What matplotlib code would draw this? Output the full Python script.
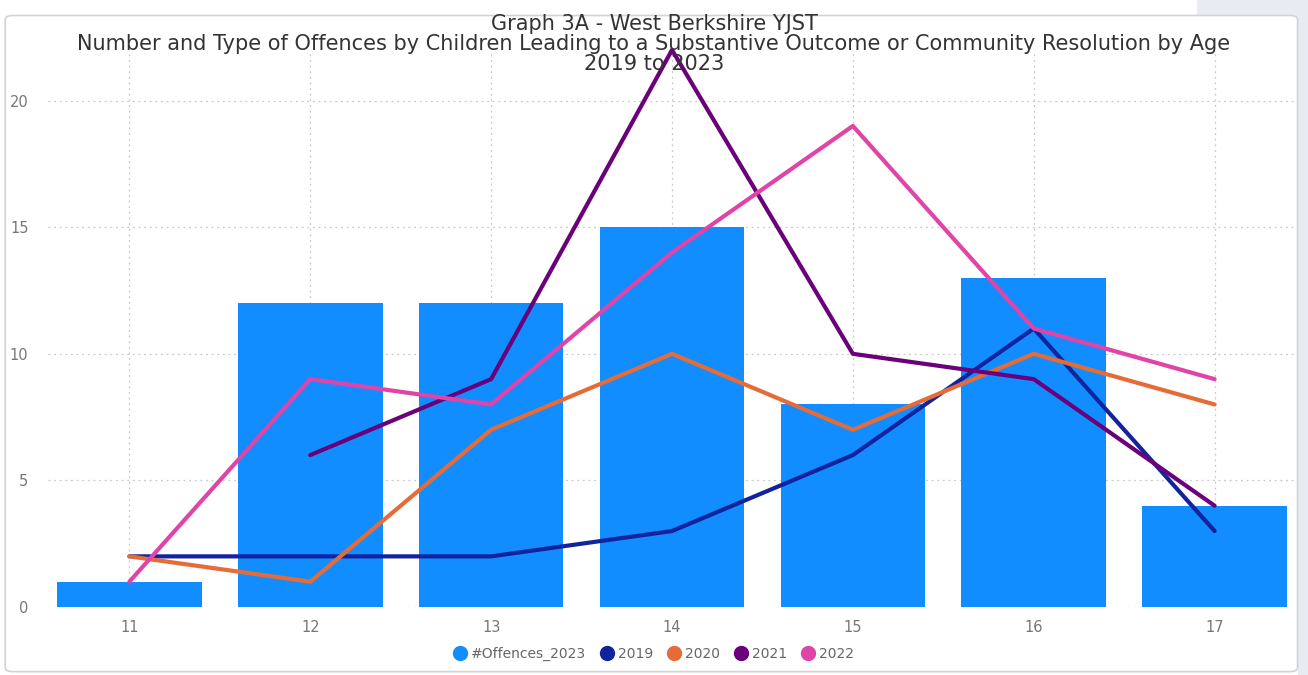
import numpy as np
import matplotlib.pyplot as plt
from matplotlib.patches import FancyBboxPatch, Rectangle
from matplotlib.lines import Line2D

plt.rcParams['font.family'] = ['DejaVu Sans']

ages = [11, 12, 13, 14, 15, 16, 17]
offences_2023 = [1, 12, 12, 15, 8, 13, 4]
y2019 = [2, 2, 2, 3, 6, 11, 3]
y2020 = [2, 1, 7, 10, 7, 10, 8]
y2021 = [np.nan, 6, 9, 22, 10, 9, 4]
y2022 = [1, 9, 8, 14, 19, 11, 9]

labels = ['#Offences_2023', '2019', '2020', '2021', '2022']
colors = ['#118DFF', '#12239E', '#E66C37', '#6B007B', '#E044A7']

fig = plt.figure(figsize=(13.08, 6.75), dpi=100)
fig.patch.set_facecolor('white')

# light background strip at top-right and right edge
fig.patches.append(Rectangle((0.915, 0.975), 0.085, 0.025, transform=fig.transFigure,
                             facecolor='#E8EBF2', edgecolor='none', zorder=0))
fig.patches.append(Rectangle((0.992, 0), 0.008, 1, transform=fig.transFigure,
                             facecolor='#E8EBF2', edgecolor='none', zorder=0))
card = FancyBboxPatch((0.004, 0.005), 0.988, 0.972, boxstyle='round,pad=0,rounding_size=0.006',
                      transform=fig.transFigure, facecolor='white', edgecolor='#D0D3D8',
                      linewidth=1.2, zorder=1)
fig.patches.append(card)

ax = fig.add_axes([48 / 1308, (675 - 607) / 675, (1296 - 48) / 1308, (607 - 50) / 675])
ax.set_facecolor('none')
ax.set_zorder(3)

ax.bar(ages, offences_2023, width=0.8, color=colors[0], zorder=2)
for vals, c in zip([y2019, y2020, y2021, y2022], colors[1:]):
    ax.plot(ages, vals, color=c, linewidth=3, zorder=3, clip_on=False, solid_capstyle='round')

ax.set_xlim(10.55, 17.45)
ax.set_ylim(0, 22)
ax.set_xticks(ages)
ax.set_yticks([0, 5, 10, 15, 20])
ax.grid(True, axis='both', color='#C8C8C8', linestyle=(0, (1.5, 3)), linewidth=0.9, zorder=0)
ax.set_axisbelow(True)
for s in ax.spines.values():
    s.set_visible(False)
ax.tick_params(length=0, colors='#777777', labelsize=10.5)
ax.tick_params(axis='x', pad=9)
ax.tick_params(axis='y', pad=14)

fig.text(0.5, 1 - 44 / 675, 'Graph 3A - West Berkshire YJST\n'
         'Number and Type of Offences by Children Leading to a Substantive Outcome or Community Resolution by Age\n'
         '2019 to 2023', ha='center', va='center', fontsize=15, color='#333333',
         linespacing=0.98, zorder=5)

handles = [Line2D([], [], marker='o', linestyle='none', markersize=10, color=c) for c in colors]
fig.legend(handles, labels, loc='center', bbox_to_anchor=(0.497, 1 - 654 / 675), ncol=5,
           frameon=False, fontsize=10, labelcolor='#666666', handletextpad=-0.2,
           columnspacing=0.5)

fig.savefig('out.png', dpi=100)
